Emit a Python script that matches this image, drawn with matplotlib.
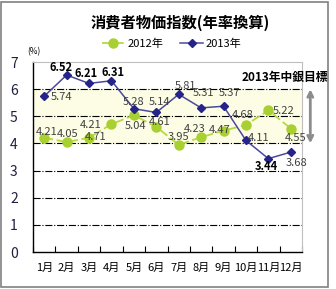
import matplotlib
matplotlib.use("Agg")
import matplotlib.pyplot as plt
from matplotlib.patches import Rectangle

plt.rcParams['font.family'] = ['Noto Sans CJK JP', 'DejaVu Sans']

# ---------------- data ----------------
months = ["1月", "2月", "3月", "4月", "5月", "6月", "7月", "8月", "9月", "10月", "11月", "12月"]
cpi_2012 = [4.21, 4.05, 4.21, 4.71, 5.04, 4.61, 3.95, 4.23, 4.47, 4.68, 5.22, 4.55]
cpi_2013 = [5.74, 6.52, 6.21, 6.31, 5.28, 5.14, 5.81, 5.31, 5.37, 4.11, 3.44, 3.68]
target_low, target_high = 4, 6

# label offsets (pixels) so labels sit like the original
off_2012 = [(2, 6), (1, 8), (2, 13), (-16, -13), (2, -11), (3, 5),
            (0, 8), (-6, 8), (-4, 1), (-3, 10), (15, -1), (5, -9)]
off_2013 = [(17, -1), (-6, 8), (-3, 10), (2, 8), (0, 7), (3, 10),
            (7, 8), (2, 15), (6, 13), (13, 2), (-2, -8), (6, -11)]
bold_2013 = {1, 2, 3, 10}

W, H = 336, 289
fig = plt.figure(figsize=(W / 100, H / 100), dpi=100)
ax = fig.add_axes([33 / W, 1 - 252 / H, 269 / W, 190 / H])

x = list(range(len(months)))

# target band
ax.axhspan(target_low, target_high, color="#FDFDE6", zorder=0)
for yv in [1, 2, 3, 4, 5, 6]:
    ax.axhline(yv, color="black", lw=0.8, ls="-.", zorder=1)

ax.plot(x, cpi_2012, color="#B5D844", lw=1.3, ls=(0, (5, 2)), marker="o",
        markersize=6.5, markerfacecolor="#A8D030", markeredgecolor="#A8D030",
        label="2012年", zorder=3)
ax.plot(x, cpi_2013, color="#4A4A9A", lw=1.1, marker="D", markersize=4,
        markerfacecolor="#24248A", markeredgecolor="#24248A",
        label="2013年", zorder=4)

for i, v in enumerate(cpi_2012):
    ax.annotate(f"{v:.2f}", (i, v), xytext=off_2012[i], textcoords="offset pixels",
                ha="center", va="center", fontsize=8, color="#404040", zorder=5)
for i, v in enumerate(cpi_2013):
    bold = i in bold_2013
    ax.annotate(f"{v:.2f}", (i, v), xytext=off_2013[i], textcoords="offset pixels",
                ha="center", va="center", fontsize=8,
                color="black" if bold else "#404040",
                fontweight="bold" if bold else "normal", zorder=5)

ax.set_xlim(-0.5, 11.5)
ax.set_ylim(0, 7)
ax.set_xticks(x)
ax.set_xticklabels(months, fontsize=8)
ax.set_xticks([i - 0.5 for i in range(13)], minor=True)
ax.tick_params(axis="x", which="major", length=0, pad=8)
ax.tick_params(axis="x", which="minor", direction="in", length=4, width=0.8)
ax.set_yticks(range(8))
ax.tick_params(axis="y", length=0, pad=11, labelsize=10, labelcolor="#1F1F3F")

for s in ["top", "right"]:
    ax.spines[s].set_color("#BFBFBF")
for s in ["left", "bottom"]:
    ax.spines[s].set_color("black")
    ax.spines[s].set_linewidth(1.0)

# target arrow and label
ax.annotate("", xy=(11.87, 6.1), xytext=(11.87, 3.9), xycoords="data",
            arrowprops=dict(arrowstyle="<->", color="#8C8C8C", lw=2,
                            mutation_scale=9), annotation_clip=False)
fig.text(328 / W, 1 - 77 / H, "2013年中銀目標", ha="right", va="center",
         fontsize=8.5, fontweight="bold")

fig.text(180 / W, 1 - 23 / H, "消費者物価指数(年率換算)", ha="center", va="center",
         fontsize=11, fontweight="bold")
fig.text(34 / W, 1 - 52 / H, "(%)", ha="center", va="center", fontsize=6)

fig.legend(loc="center", bbox_to_anchor=(172 / W, 1 - 44 / H), ncol=2,
           frameon=False, fontsize=8, handlelength=2.0, columnspacing=1.5,
           handletextpad=0.3)

fig.add_artist(Rectangle((1 / W, 2 / H), 327 / W, 285 / H, fill=False,
                         edgecolor="#808080", lw=1.2, transform=fig.transFigure))

fig.savefig("out.png", dpi=100)
